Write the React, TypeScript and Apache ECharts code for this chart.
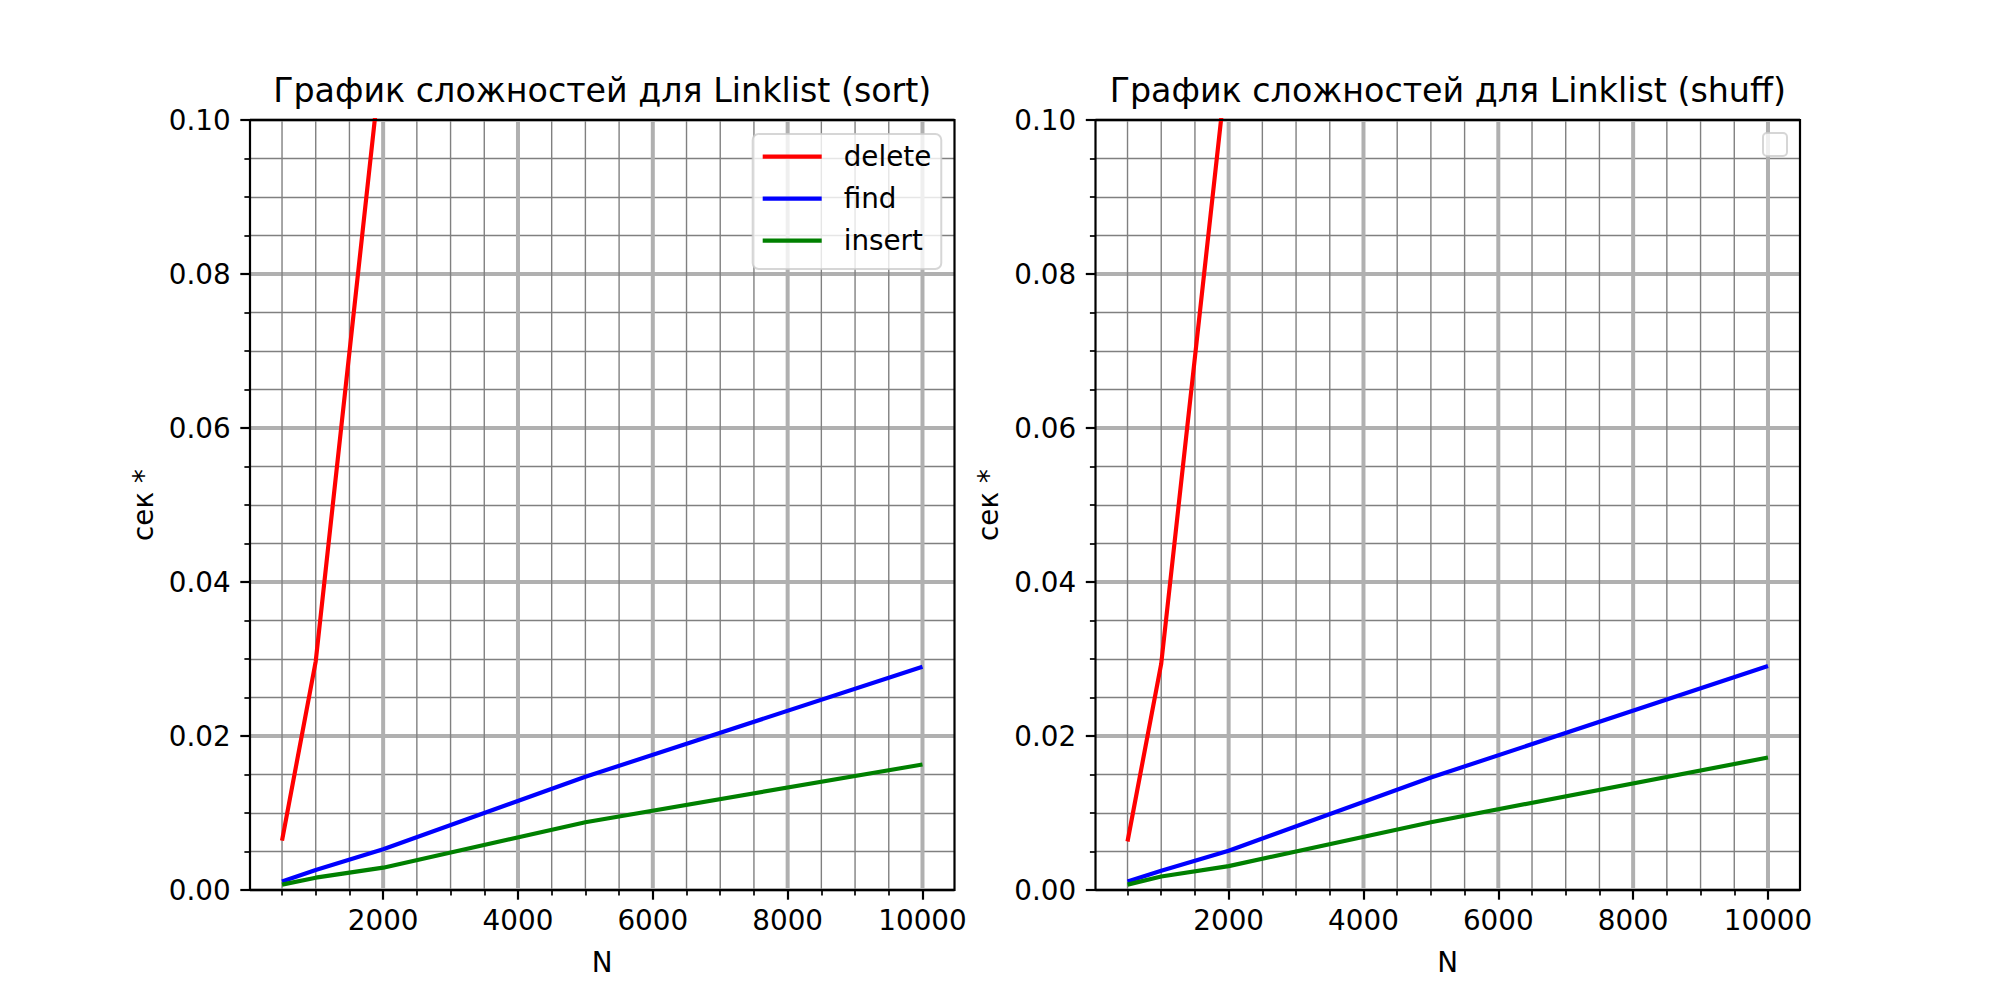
import React, { useEffect, useRef } from "react";
import * as echarts from "echarts";

// ---- data ----
const N = [500, 1000, 2000, 5000, 10000];
const sortDelete = [0.0064, 0.0297, 0.11, 0.69, 2.75];
const sortFind = [0.0011, 0.0026, 0.0053, 0.0147, 0.029];
const sortInsert = [0.0007, 0.0016, 0.0029, 0.0088, 0.0163];
const shuffDelete = [0.0063, 0.0294, 0.109, 0.68, 2.72];
const shuffFind = [0.0011, 0.0025, 0.0051, 0.0146, 0.0291];
const shuffInsert = [0.0007, 0.00176, 0.0031, 0.0088, 0.0172];

const seriesNames = ["delete", "find", "insert"];
const seriesColors = ["#ff0000", "#0000ff", "#008000"];
const titles = [
  "График сложностей для Linklist (sort)",
  "График сложностей для Linklist (shuff)",
];
const xMajorTicks = [2000, 4000, 6000, 8000, 10000];
const xMinorTicks = [500, 1000, 1500, 2500, 3000, 3500, 4500, 5000, 5500, 6500, 7000, 7500, 8500, 9000, 9500];
const xLabel = "N";
const yLabel = "сек *";

const FONT = "DejaVu Sans";
const TICK_FS = 27.8;
const TITLE_FS = 33.3;

const X_MIN = 25;
const X_MAX = 10475;
const Y_MIN = 0;
const Y_MAX = 0.1;

const GRID_TOP = 120;
const GRID_H = 770;
const GRID_W = 704.5;
const GRID_LEFTS = [250, 1095.5];

const MAJOR_GRID = { color: "#b0b0b0", width: 4 };
const MINOR_GRID = { color: "#808080", width: 1.4 };

function zip(xs: number[], ys: number[]) {
  return xs.map((x, i) => [x, ys[i]]);
}

function gridLineSeries(values: number[], xAxisIndex: number, yAxisIndex: number, color: string, width: number, z: number) {
  return {
    type: "custom",
    xAxisIndex,
    yAxisIndex,
    silent: true,
    z,
    clip: false,
    data: values.map((v) => [v, 0]),
    renderItem: (params: any, api: any) => {
      const x = api.coord([api.value(0), 0])[0];
      const cs = params.coordSys;
      return {
        type: "line",
        shape: { x1: x, y1: cs.y, x2: x, y2: cs.y + cs.height },
        style: { stroke: color, lineWidth: width },
      };
    },
  };
}

export default function App() {
  const ref = useRef<HTMLDivElement>(null);

  useEffect(() => {
    if (!ref.current) return;
    const chart = echarts.init(ref.current, undefined, { renderer: "svg" });

    const grids = GRID_LEFTS.map((left) => ({
      left,
      top: GRID_TOP,
      width: GRID_W,
      height: GRID_H,
      containLabel: false,
    }));

    const xAxes: any[] = [];
    const yAxes: any[] = [];
    GRID_LEFTS.forEach((_, g) => {
      xAxes.push({
        type: "value",
        gridIndex: g,
        min: X_MIN,
        max: X_MAX,
        position: "bottom",
        name: xLabel,
        nameLocation: "middle",
        nameGap: 58,
        nameTextStyle: { fontFamily: FONT, fontSize: TICK_FS, color: "#000" },
        axisLine: { show: false },
        axisTick: {
          show: true,
          customValues: xMajorTicks,
          length: 9.7,
          lineStyle: { color: "#000", width: 2.2 },
        },
        axisLabel: {
          show: true,
          customValues: xMajorTicks,
          margin: 16,
          fontFamily: FONT,
          fontSize: TICK_FS,
          color: "#000",
          formatter: (v: number) => String(Math.round(v)),
        },
        splitLine: { show: false },
      });
      xAxes.push({
        type: "value",
        gridIndex: g,
        min: X_MIN,
        max: X_MAX,
        position: "bottom",
        axisLine: { show: false },
        axisTick: {
          show: true,
          customValues: xMinorTicks,
          length: 5.6,
          lineStyle: { color: "#000", width: 1.7 },
        },
        axisLabel: { show: false, customValues: xMinorTicks },
        splitLine: { show: false },
      });
      yAxes.push({
        type: "value",
        gridIndex: g,
        min: Y_MIN,
        max: Y_MAX,
        interval: 0.02,
        name: yLabel,
        nameLocation: "middle",
        nameGap: 93,
        nameTextStyle: { fontFamily: FONT, fontSize: TICK_FS, color: "#000" },
        axisLine: { show: false },
        axisTick: { show: true, length: 9.7, lineStyle: { color: "#000", width: 2.2 } },
        minorTick: { show: true, splitNumber: 4, length: 5.6, lineStyle: { color: "#000", width: 1.7 } },
        axisLabel: {
          show: true,
          margin: 19.4,
          fontFamily: FONT,
          fontSize: TICK_FS,
          color: "#000",
          formatter: (v: number) => v.toFixed(2),
        },
        splitLine: { show: true, lineStyle: { color: MAJOR_GRID.color, width: MAJOR_GRID.width } },
        minorSplitLine: { show: true, lineStyle: { color: MINOR_GRID.color, width: MINOR_GRID.width } },
      });
    });

    const sets = [
      [sortDelete, sortFind, sortInsert],
      [shuffDelete, shuffFind, shuffInsert],
    ];

    const series: any[] = [];
    sets.forEach((set, g) => {
      series.push(gridLineSeries(xMinorTicks, g * 2, g, MINOR_GRID.color, MINOR_GRID.width, 1));
      series.push(gridLineSeries(xMajorTicks, g * 2, g, MAJOR_GRID.color, MAJOR_GRID.width, 1.5));
      set.forEach((vals, i) => {
        series.push({
          type: "line",
          name: seriesNames[i],
          xAxisIndex: g * 2,
          yAxisIndex: g,
          data: zip(N, vals),
          symbol: "none",
          showSymbol: false,
          clip: true,
          z: 3,
          lineStyle: { color: seriesColors[i], width: 4.17 },
          itemStyle: { color: seriesColors[i] },
        });
      });
    });

    const graphic: any[] = [];
    GRID_LEFTS.forEach((left, g) => {
      graphic.push({
        type: "text",
        x: left + GRID_W / 2,
        y: 90,
        silent: true,
        style: {
          text: titles[g],
          fontFamily: FONT,
          fontSize: TITLE_FS,
          fill: "#000",
          align: "center",
          verticalAlign: "middle",
        },
      });
      graphic.push({
        type: "rect",
        silent: true,
        z: 20,
        shape: { x: left, y: GRID_TOP, width: GRID_W, height: GRID_H },
        style: { fill: "none", stroke: "#000", lineWidth: 2.2 },
      });
    });
    // empty legend box of the right chart
    graphic.push({
      type: "rect",
      silent: true,
      z: 21,
      shape: { x: 1763, y: 133, width: 24, height: 23, r: 4 },
      style: { fill: "rgba(255,255,255,0.8)", stroke: "rgba(204,204,204,0.8)", lineWidth: 2 },
    });

    chart.setOption({
      animation: false,
      backgroundColor: "#fff",
      textStyle: { fontFamily: FONT },
      grid: grids,
      xAxis: xAxes,
      yAxis: yAxes,
      legend: {
        show: true,
        data: seriesNames,
        orient: "vertical",
        left: 752.7,
        top: 134,
        padding: [8.7, 10, 14.3, 10],
        itemGap: 14,
        itemWidth: 59,
        itemHeight: 4.2,
        icon: "rect",
        selectedMode: false,
        backgroundColor: "rgba(255,255,255,0.8)",
        borderColor: "rgba(204,204,204,0.8)",
        borderWidth: 2,
        borderRadius: 6,
        textStyle: {
          fontFamily: FONT,
          fontSize: TICK_FS,
          color: "#000",
          lineHeight: 28,
          padding: [0, 0, 0, 17],
        },
      },
      graphic,
      series,
    });

    return () => {
      chart.dispose();
    };
  }, []);

  return (
    <div
      ref={ref}
      style={{ position: "absolute", left: 0, top: 0, width: 2000, height: 1000 }}
    />
  );
}
